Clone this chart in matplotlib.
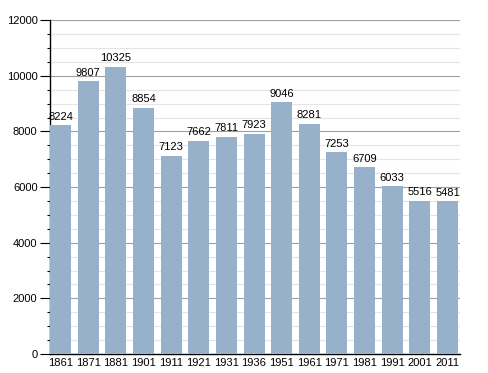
import numpy as np
import matplotlib
matplotlib.use("Agg")
from matplotlib import pyplot as plt
from matplotlib.ticker import MultipleLocator

years = ["1861", "1871", "1881", "1901", "1911", "1921", "1931", "1936",
         "1951", "1961", "1971", "1981", "1991", "2001", "2011"]
population = [8224, 9807, 10325, 8854, 7123, 7662, 7811, 7923,
              9046, 8281, 7253, 6709, 6033, 5516, 5481]

plt.rcParams['font.family'] = ['Liberation Sans', 'DejaVu Sans']

fig = plt.figure(figsize=(4.88, 3.73), dpi=100)
ax = fig.add_axes([0.1025, 0.051, 0.84, 0.895])

x = np.arange(len(years))
w = 0.76
ax.bar(x, population, width=w, color="#97b1cb", zorder=3)
for xi, v in zip(x, population):
    ax.text(xi, v + 130, str(v), ha="center", va="bottom", fontsize=8, zorder=4)

ax.set_xlim(-w / 2, len(years) - 1 + w / 2 + 0.07)
ax.set_ylim(0, 12000)
ax.set_xticks(x)
ax.set_xticklabels(years, fontsize=8)
ax.yaxis.set_major_locator(MultipleLocator(2000))
ax.yaxis.set_minor_locator(MultipleLocator(500))
ax.tick_params(axis="y", labelsize=8, length=7, width=0.8, pad=2)
ax.tick_params(axis="y", which="minor", length=2.5, width=0.8)
ax.tick_params(axis="x", length=0, pad=3)
ax.grid(axis="y", which="major", color="#a0a0a0", linewidth=0.8, zorder=1)
ax.grid(axis="y", which="minor", color="#e4e4e4", linewidth=0.8, zorder=1)
for s in ["top", "right"]:
    ax.spines[s].set_visible(False)
ax.spines["left"].set_linewidth(1.0)
ax.spines["bottom"].set_linewidth(1.0)

fig.savefig("out.png", dpi=100)
